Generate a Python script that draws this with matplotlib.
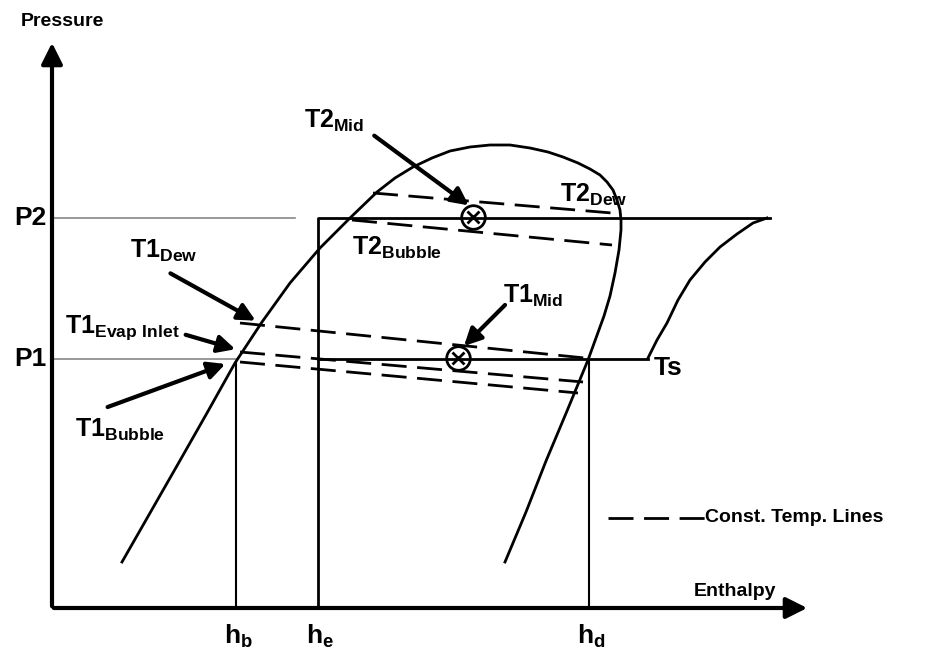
import numpy as np
import matplotlib.pyplot as plt

plt.rcParams['font.family'] = ['Liberation Sans', 'DejaVu Sans']
plt.rcParams['mathtext.fontset'] = 'custom'
plt.rcParams['mathtext.rm'] = 'Liberation Sans:bold'
plt.rcParams['mathtext.bf'] = 'Liberation Sans:bold'

# schematic (pixel-like units, y grows downwards)
dome_x = [122, 150, 178, 207, 235, 262, 290, 320, 350, 377, 395, 413, 432,
          450, 470, 490, 510, 530, 548, 563, 578, 590, 600, 607, 613, 617, 620,
          621, 621, 619, 615, 610, 604, 596, 588, 567, 546, 526, 505]
dome_y = [562, 513, 464, 413, 363, 322, 283, 248, 218, 192, 178, 167, 158,
          151, 147, 145, 145, 148, 152, 157, 163, 169, 175, 182, 190, 200, 210,
          220, 230, 250, 273, 296, 316, 338, 360, 411, 461, 512, 562]

sup_x = [648, 657, 667, 678, 690, 705, 720, 737, 753, 767]
sup_y = [358, 340, 323, 300, 280, 262, 247, 234, 223, 218]

x0, y0 = 52, 608          # origin of the axes
p1, p2 = 359, 218         # pressure levels
hb, he, hd = 236, 318, 589
x_end_p2, x_end_p1 = 770, 648

# constant temperature lines: (x1, y1, x2, y2)
t2_dash = [(373, 193, 612, 213), (352, 220, 612, 245)]
t1_dash = [(240, 323, 585, 358), (240, 352, 583, 382), (240, 362, 578, 393)]

mids = [(473, 217), (458, 358)]

fig = plt.figure(figsize=(9.3, 6.56), dpi=100)
ax = fig.add_axes([0, 0, 1, 1])
ax.set_xlim(0, 930)
ax.set_ylim(656, 0)
ax.axis('off')

k = 'black'
dash = (9, 3.8)
# axes with arrows
ax.annotate('', xy=(x0, 40), xytext=(x0, y0 + 1),
            arrowprops=dict(arrowstyle='-|>', lw=3, color=k, mutation_scale=32))
ax.annotate('', xy=(810, y0), xytext=(x0 - 1, y0),
            arrowprops=dict(arrowstyle='-|>', lw=3, color=k, mutation_scale=32))

# thin pressure reference lines
ax.plot([x0, 295], [p2, p2], color='#888888', lw=1.2)
ax.plot([x0, 236], [p1, p1], color='#888888', lw=1.2)

# saturation dome and superheat curve
ax.plot(dome_x, dome_y, color=k, lw=2, solid_joinstyle='round')
ax.plot(sup_x, sup_y, color=k, lw=2, solid_joinstyle='round')

# cycle
ax.plot([he, he, x_end_p2], [y0, p2, p2], color=k, lw=2)
ax.plot([he, x_end_p1], [p1, p1], color=k, lw=2)
ax.plot([hb, hb], [p1 + 3, y0], color=k, lw=1.5)
ax.plot([hd, hd], [p1, y0], color=k, lw=1.5)

for x1, y1, x2, y2 in t2_dash + t1_dash:
    ax.plot([x1, x2], [y1, y2], color=k, lw=2, dashes=dash)

for mx, my in mids:
    ax.plot(mx, my, marker='o', ms=17, mfc='none', mec=k, mew=2)
    ax.plot(mx, my, marker='x', ms=9, color=k, mew=2)

# legend
ax.plot([608, 705], [518, 518], color=k, lw=2, dashes=dash)
ax.text(705, 518, 'Const. Temp. Lines', fontsize=14, fontweight='bold',
        va='center', ha='left')

def arrow(tx, ty, hx, hy):
    ax.annotate('', xy=(hx, hy), xytext=(tx, ty),
                arrowprops=dict(arrowstyle='-|>', lw=3, color=k, mutation_scale=26))

arrow(372, 134, 471, 207)
arrow(507, 303, 462, 348)
arrow(168, 272, 258, 322)
arrow(183, 334, 238, 350)
arrow(105, 408, 228, 363)

fs = 18
ax.text(304, 128, r'$\mathrm{T2}_{\mathrm{Mid}}$', fontsize=fs, va='baseline')
ax.text(560, 202, r'$\mathrm{T2}_{\mathrm{Dew}}$', fontsize=fs, va='baseline')
ax.text(352, 255, r'$\mathrm{T2}_{\mathrm{Bubble}}$', fontsize=fs, va='baseline')
ax.text(130, 258, r'$\mathrm{T1}_{\mathrm{Dew}}$', fontsize=fs, va='baseline')
ax.text(65, 333, r'$\mathrm{T1}_{\mathrm{Evap\ Inlet}}$', fontsize=fs, va='baseline')
ax.text(503, 303, r'$\mathrm{T1}_{\mathrm{Mid}}$', fontsize=fs, va='baseline')
ax.text(75, 437, r'$\mathrm{T1}_{\mathrm{Bubble}}$', fontsize=fs, va='baseline')

ax.text(654, 368, 'Ts', fontsize=19, fontweight='bold', va='center')
ax.text(30, p2, 'P2', fontsize=19, fontweight='bold', va='center', ha='center')
ax.text(30, p1, 'P1', fontsize=19, fontweight='bold', va='center', ha='center')
ax.text(62, 22, 'Pressure', fontsize=14, fontweight='bold', va='center', ha='center')
ax.text(735, 592, 'Enthalpy', fontsize=14, fontweight='bold', va='center', ha='center')

for hx, lab in [(hb, 'b'), (he, 'e'), (hd, 'd')]:
    ax.text(hx + 2, 643, r'$\mathrm{h}_{\mathrm{%s}}$' % lab, fontsize=19,
            va='baseline', ha='center')

fig.savefig('out.png', dpi=100)
